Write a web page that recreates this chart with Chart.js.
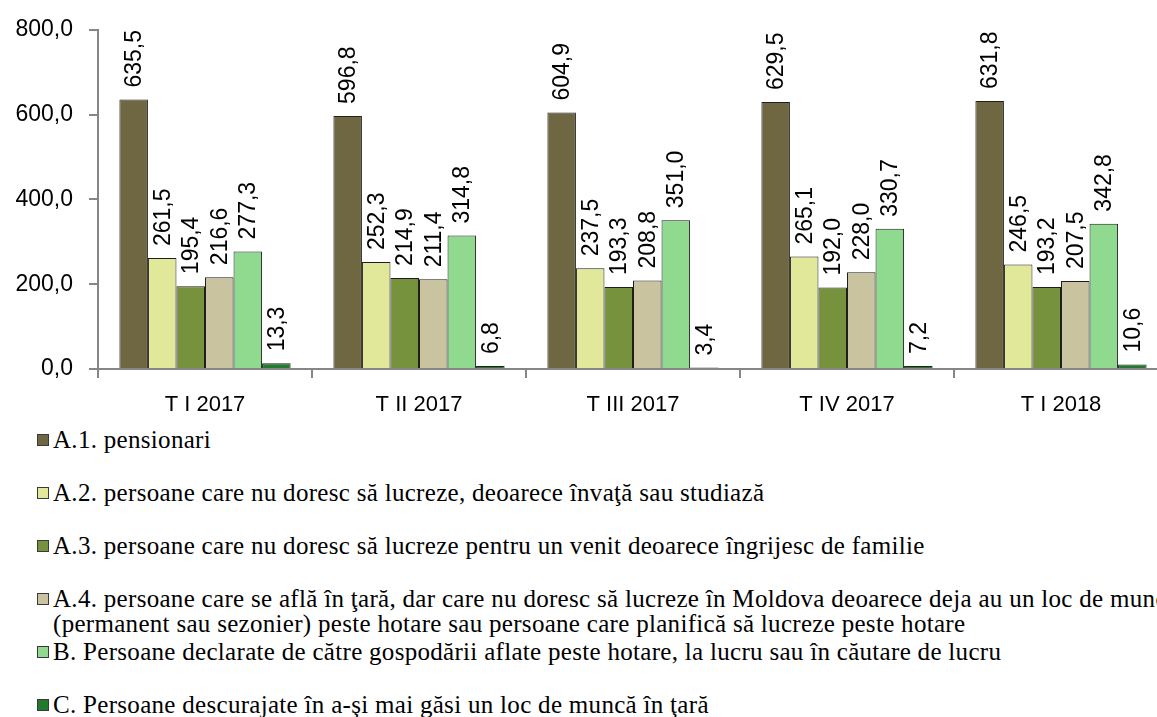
<!DOCTYPE html>
<html>
<head>
<meta charset="utf-8">
<script src="https://cdn.jsdelivr.net/npm/chart.js@4/dist/chart.umd.min.js"></script>
<style>
  html, body { margin: 0; padding: 0; background: #fff; overflow: hidden; width: 1157px; height: 717px; }
  #wrap { position: absolute; left: 0; top: 0; width: 1170px; height: 425px; }
  #legend { position: absolute; left: 37px; top: 427px; font-family: "Liberation Serif", serif; font-size: 25px; letter-spacing: 0.3px; color: #000; }
  .item { position: relative; height: 53px; white-space: pre; line-height: 25px; }
  .box { position: absolute; left: 0; top: 7px; width: 10px; height: 10px; border: 1px solid #3a3a3a; }
  .txt { position: absolute; left: 16px; top: 0; }
</style>
</head>
<body>
<div id="wrap"><canvas id="chart" width="1170" height="425"></canvas></div>
<div id="legend"></div>
<script>
const quarters = ['T I 2017', 'T II 2017', 'T III 2017', 'T IV 2017', 'T I 2018']

const seriesNames = [
  'A.1. pensionari',
  'A.2. persoane care nu doresc să lucreze, deoarece învaţă sau studiază',
  'A.3. persoane care nu doresc să lucreze pentru un venit deoarece îngrijesc de familie',
  'A.4. persoane care se află în ţară, dar care nu doresc să lucreze în Moldova deoarece deja au un loc de muncă\n(permanent sau sezonier) peste hotare sau persoane care planifică să lucreze peste hotare',
  'B. Persoane declarate de către gospodării aflate peste hotare, la lucru sau în căutare de lucru',
  'C. Persoane descurajate în a-şi mai găsi un loc de muncă în ţară'
]

const pensionari = [635.5, 596.8, 604.9, 629.5, 631.8]
const studiaza = [261.5, 252.3, 237.5, 265.1, 246.5]
const familie = [195.4, 214.9, 193.3, 192.0, 193.2]
const pesteHotare = [216.6, 211.4, 208.8, 228.0, 207.5]
const gospodarii = [277.3, 314.8, 351.0, 330.7, 342.8]
const descurajate = [13.3, 6.8, 3.4, 7.2, 10.6]

const yTicks = [0, 200, 400, 600, 800]

const colors = ['#6e6741', '#e2e89a', '#76923c', '#c9c3a0', '#90da90', '#237a2d']
const allSeries = [pensionari, studiaza, familie, pesteHotare, gospodarii, descurajate]

const fmt = v => v.toFixed(1).replace('.', ',')
const labelFont = '23px "Liberation Sans", Arial, sans-serif'

// vertical value labels above every bar
const barLabels = {
  id: 'barLabels',
  afterDatasetsDraw(chart) {
    const ctx = chart.ctx
    ctx.save()
    ctx.font = labelFont
    ctx.fillStyle = '#000'
    ctx.textAlign = 'left'
    ctx.textBaseline = 'middle'
    chart.data.datasets.forEach((ds, i) => {
      chart.getDatasetMeta(i).data.forEach((bar, j) => {
        ctx.save()
        ctx.translate(bar.x, bar.y - 12)
        ctx.rotate(-Math.PI / 2)
        ctx.fillText(fmt(ds.data[j]), 0, 1)
        ctx.restore()
      })
    })
    ctx.restore()
  }
}

const axisColor = '#868686'

const chart = new Chart(document.getElementById('chart'), {
  type: 'bar',
  data: {
    labels: quarters,
    datasets: allSeries.map((vals, i) => ({
      label: seriesNames[i],
      data: vals,
      backgroundColor: colors[i],
      borderColor: '#1e1e1e',
      borderWidth: 1,
      categoryPercentage: 0.8,
      barPercentage: 1.0
    }))
  },
  options: {
    responsive: false,
    animation: false,
    layout: { padding: { top: 25, right: 2, left: 0, bottom: 0 } },
    plugins: { legend: { display: false }, tooltip: { enabled: false } },
    scales: {
      x: {
        grid: { offset: true, drawOnChartArea: false, tickLength: 9, color: axisColor, lineWidth: 2 },
        border: { color: axisColor, width: 2 },
        ticks: { color: '#000', font: { family: '"Liberation Sans", Arial, sans-serif', size: 22 }, padding: 14, maxRotation: 0 },
        afterFit(scale) { scale.height = 56 }
      },
      y: {
        min: 0,
        max: 800,
        afterBuildTicks(scale) { scale.ticks = yTicks.map(v => ({ value: v })) },
        grid: { drawOnChartArea: false, tickLength: 9, color: axisColor, lineWidth: 2 },
        border: { color: axisColor, width: 2 },
        ticks: { color: '#000', font: { family: '"Liberation Sans", Arial, sans-serif', size: 23 }, padding: 16, callback: v => fmt(v) },
        afterFit(scale) { scale.width = 98 }
      }
    }
  },
  plugins: [barLabels]
})

// html legend, one row per series
const legend = document.getElementById('legend')
chart.data.datasets.forEach(ds => {
  const item = document.createElement('div')
  item.className = 'item'
  const box = document.createElement('span')
  box.className = 'box'
  box.style.background = ds.backgroundColor
  const txt = document.createElement('span')
  txt.className = 'txt'
  txt.textContent = ds.label
  item.appendChild(box)
  item.appendChild(txt)
  legend.appendChild(item)
})
</script>
</body>
</html>
